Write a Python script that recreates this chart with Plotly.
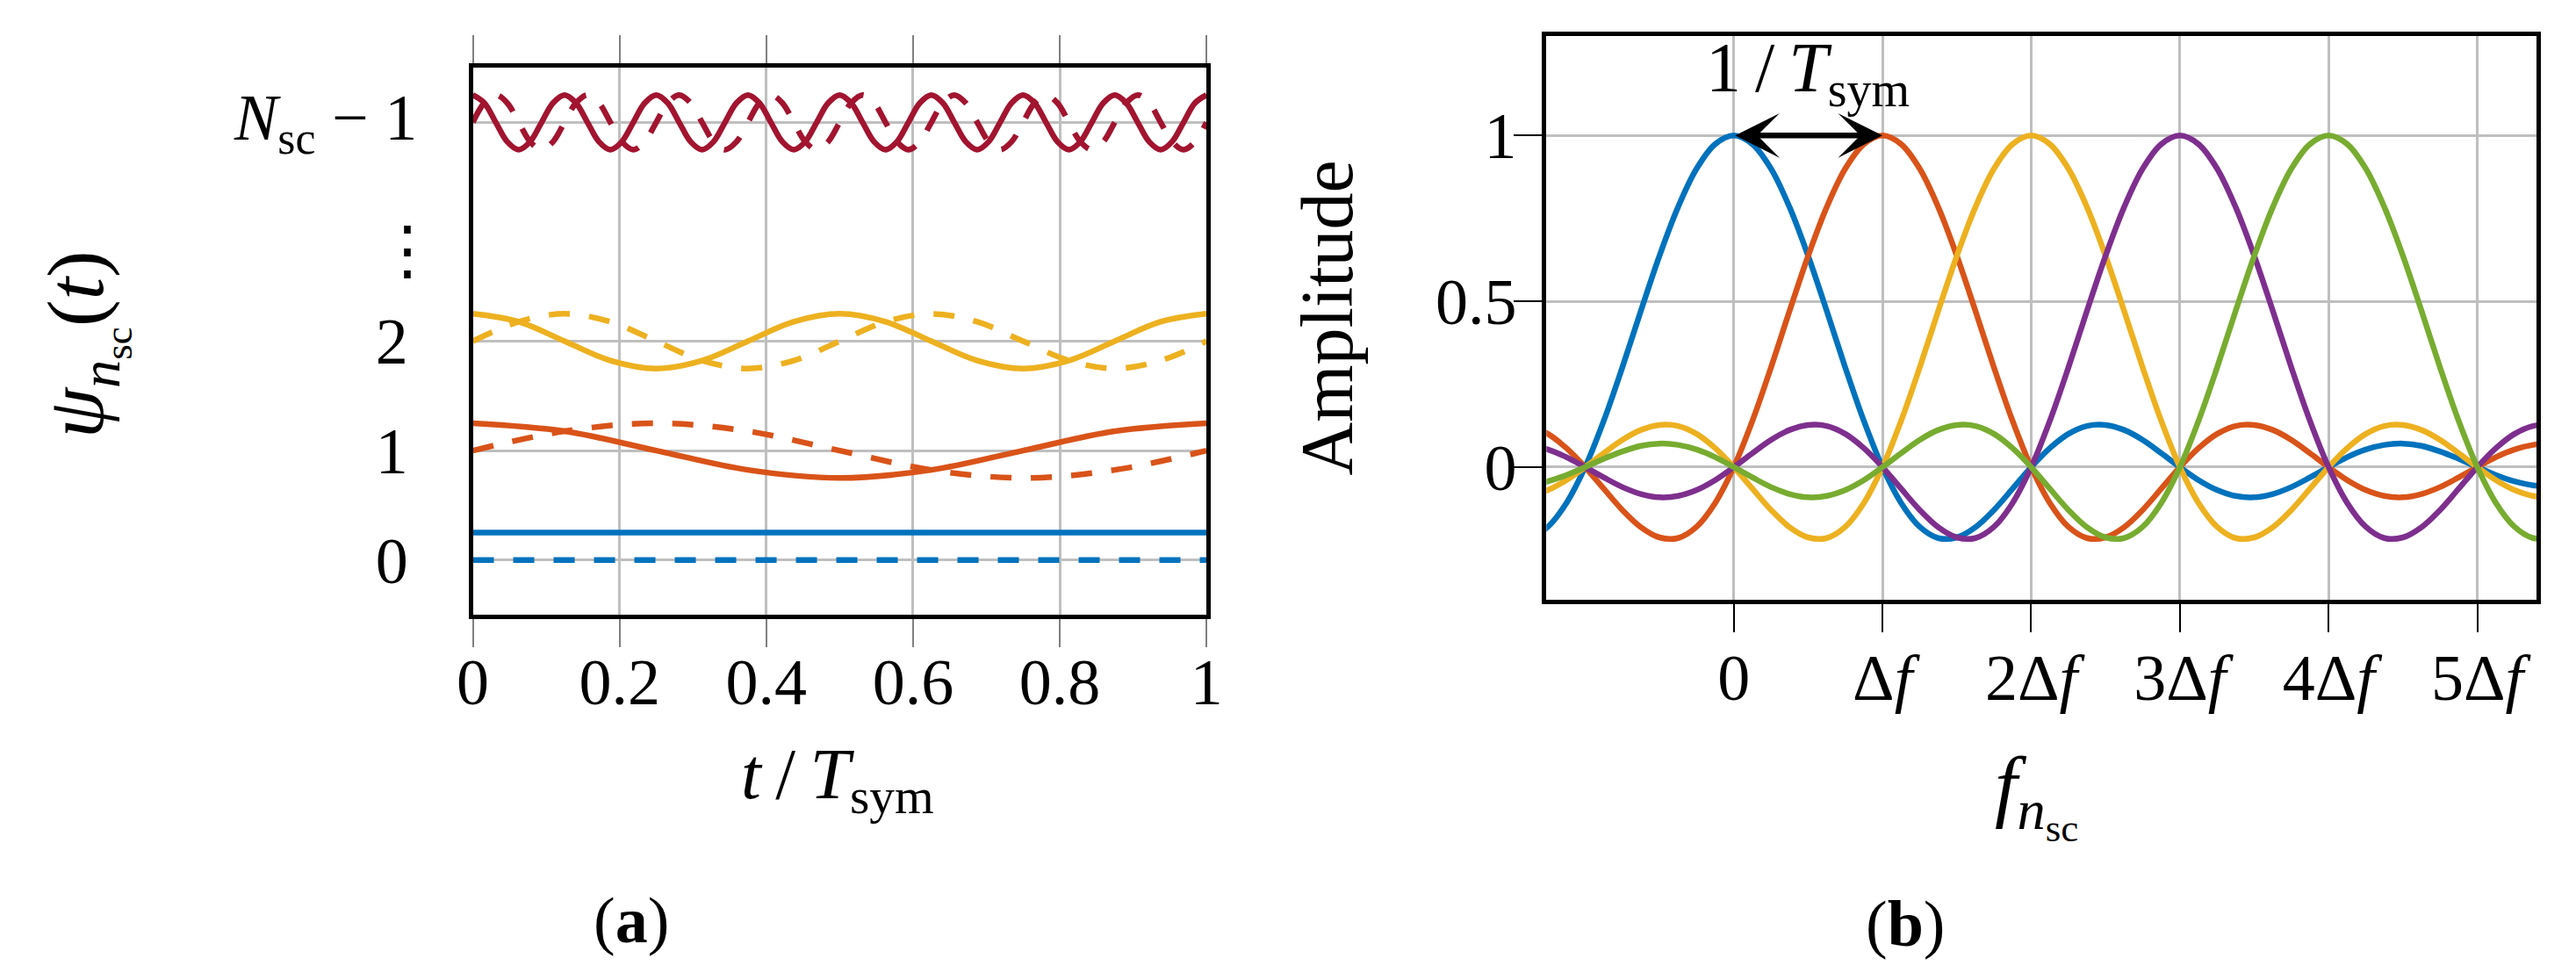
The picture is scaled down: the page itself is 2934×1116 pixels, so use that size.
import plotly.graph_objects as go

# ---------------- data: panel (a) time-domain subcarriers ----------------
T_FLAT = [0.0, 1.0]
BLUE_SOLID = [0.25, 0.25]
BLUE_DASH = [0.0, 0.0]

T_ORANGE = [0.0, 0.125, 0.25, 0.375, 0.5, 0.625, 0.75, 0.875, 1.0]
ORANGE_SOLID = [1.25, 1.177, 1.0, 0.823, 0.75, 0.823, 1.0, 1.177, 1.25]
ORANGE_DASH = [1.0, 1.177, 1.25, 1.177, 1.0, 0.823, 0.75, 0.823, 1.0]

T_YELLOW = [0.0, 0.0625, 0.125, 0.1875, 0.25, 0.3125, 0.375, 0.4375, 0.5,
            0.5625, 0.625, 0.6875, 0.75, 0.8125, 0.875, 0.9375, 1.0]
YELLOW_SOLID = [2.25, 2.177, 2.0, 1.823, 1.75, 1.823, 2.0, 2.177, 2.25,
                2.177, 2.0, 1.823, 1.75, 1.823, 2.0, 2.177, 2.25]
YELLOW_DASH = [2.0, 2.177, 2.25, 2.177, 2.0, 1.823, 1.75, 1.823, 2.0,
               2.177, 2.25, 2.177, 2.0, 1.823, 1.75, 1.823, 2.0]

T_RED = [0.0, 0.015625, 0.03125, 0.046875, 0.0625, 0.078125, 0.09375, 0.109375,
         0.125, 0.140625, 0.15625, 0.171875, 0.1875, 0.203125, 0.21875, 0.234375,
         0.25, 0.265625, 0.28125, 0.296875, 0.3125, 0.328125, 0.34375, 0.359375,
         0.375, 0.390625, 0.40625, 0.421875, 0.4375, 0.453125, 0.46875, 0.484375,
         0.5, 0.515625, 0.53125, 0.546875, 0.5625, 0.578125, 0.59375, 0.609375,
         0.625, 0.640625, 0.65625, 0.671875, 0.6875, 0.703125, 0.71875, 0.734375,
         0.75, 0.765625, 0.78125, 0.796875, 0.8125, 0.828125, 0.84375, 0.859375,
         0.875, 0.890625, 0.90625, 0.921875, 0.9375, 0.953125, 0.96875, 0.984375,
         1.0]
RED_SOLID = [4.25, 4.177, 4.0, 3.823, 3.75, 3.823, 4.0, 4.177,
             4.25, 4.177, 4.0, 3.823, 3.75, 3.823, 4.0, 4.177,
             4.25, 4.177, 4.0, 3.823, 3.75, 3.823, 4.0, 4.177,
             4.25, 4.177, 4.0, 3.823, 3.75, 3.823, 4.0, 4.177,
             4.25, 4.177, 4.0, 3.823, 3.75, 3.823, 4.0, 4.177,
             4.25, 4.177, 4.0, 3.823, 3.75, 3.823, 4.0, 4.177,
             4.25, 4.177, 4.0, 3.823, 3.75, 3.823, 4.0, 4.177,
             4.25, 4.177, 4.0, 3.823, 3.75, 3.823, 4.0, 4.177,
             4.25]
RED_DASH = [4.0, 4.177, 4.25, 4.177, 4.0, 3.823, 3.75, 3.823,
            4.0, 4.177, 4.25, 4.177, 4.0, 3.823, 3.75, 3.823,
            4.0, 4.177, 4.25, 4.177, 4.0, 3.823, 3.75, 3.823,
            4.0, 4.177, 4.25, 4.177, 4.0, 3.823, 3.75, 3.823,
            4.0, 4.177, 4.25, 4.177, 4.0, 3.823, 3.75, 3.823,
            4.0, 4.177, 4.25, 4.177, 4.0, 3.823, 3.75, 3.823,
            4.0, 4.177, 4.25, 4.177, 4.0, 3.823, 3.75, 3.823,
            4.0, 4.177, 4.25, 4.177, 4.0, 3.823, 3.75, 3.823,
            4.0]

A_XTICKS = [0, 0.2, 0.4, 0.6, 0.8, 1]
A_XTICKTEXT = ["0", "0.2", "0.4", "0.6", "0.8", "1"]
A_YTICKS = [0, 1, 2, 4]
A_YTICKTEXT = ["0", "1", "2", ""]
A_TOP_LABEL = "<i>N</i><sub>sc</sub> − 1"

# ---------------- data: panel (b) spectra ----------------
F_GRID = [-1.5, -1.375, -1.25, -1.125, -1.0, -0.875, -0.75, -0.625, -0.5, -0.375,
          -0.25, -0.125, 0.0, 0.125, 0.25, 0.375, 0.5, 0.625, 0.75, 0.875,
          1.0, 1.125, 1.25, 1.375, 1.5, 1.625, 1.75, 1.875, 2.0, 2.125,
          2.25, 2.375, 2.5, 2.625, 2.75, 2.875, 3.0, 3.125, 3.25, 3.375,
          3.5, 3.625, 3.75, 3.875, 4.0, 4.125, 4.25, 4.375, 4.5, 4.625,
          4.75, 4.875, 5.0, 5.125, 5.25, 5.375, 5.5]
SPEC_0 = [-0.212, -0.214, -0.180, -0.108, 0.0, 0.139, 0.300, 0.471, 0.637, 0.784,
          0.900, 0.974, 1.000, 0.974, 0.900, 0.784, 0.637, 0.471, 0.300, 0.139,
          0.0, -0.108, -0.180, -0.214, -0.212, -0.181, -0.129, -0.065, 0.0, 0.057,
          0.100, 0.124, 0.127, 0.112, 0.082, 0.042, 0.0, -0.039, -0.069, -0.087,
          -0.091, -0.081, -0.060, -0.031, 0.0, 0.030, 0.053, 0.067, 0.071, 0.064,
          0.047, 0.025, 0.0, -0.024, -0.043, -0.055, -0.058]
SPEC_1 = [0.127, 0.124, 0.100, 0.057, 0.0, -0.065, -0.129, -0.181, -0.212, -0.214,
          -0.180, -0.108, 0.0, 0.139, 0.300, 0.471, 0.637, 0.784, 0.900, 0.974,
          1.000, 0.974, 0.900, 0.784, 0.637, 0.471, 0.300, 0.139, 0.0, -0.108,
          -0.180, -0.214, -0.212, -0.181, -0.129, -0.065, 0.0, 0.057, 0.100, 0.124,
          0.127, 0.112, 0.082, 0.042, 0.0, -0.039, -0.069, -0.087, -0.091, -0.081,
          -0.060, -0.031, 0.0, 0.030, 0.053, 0.067, 0.071]
SPEC_2 = [-0.091, -0.087, -0.069, -0.039, 0.0, 0.042, 0.082, 0.112, 0.127, 0.124,
          0.100, 0.057, 0.0, -0.065, -0.129, -0.181, -0.212, -0.214, -0.180, -0.108,
          0.0, 0.139, 0.300, 0.471, 0.637, 0.784, 0.900, 0.974, 1.000, 0.974,
          0.900, 0.784, 0.637, 0.471, 0.300, 0.139, 0.0, -0.108, -0.180, -0.214,
          -0.212, -0.181, -0.129, -0.065, 0.0, 0.057, 0.100, 0.124, 0.127, 0.112,
          0.082, 0.042, 0.0, -0.039, -0.069, -0.087, -0.091]
SPEC_3 = [0.071, 0.067, 0.053, 0.030, 0.0, -0.031, -0.060, -0.081, -0.091, -0.087,
          -0.069, -0.039, 0.0, 0.042, 0.082, 0.112, 0.127, 0.124, 0.100, 0.057,
          0.0, -0.065, -0.129, -0.181, -0.212, -0.214, -0.180, -0.108, 0.0, 0.139,
          0.300, 0.471, 0.637, 0.784, 0.900, 0.974, 1.000, 0.974, 0.900, 0.784,
          0.637, 0.471, 0.300, 0.139, 0.0, -0.108, -0.180, -0.214, -0.212, -0.181,
          -0.129, -0.065, 0.0, 0.057, 0.100, 0.124, 0.127]
SPEC_4 = [-0.058, -0.055, -0.043, -0.024, 0.0, 0.025, 0.047, 0.064, 0.071, 0.067,
          0.053, 0.030, 0.0, -0.031, -0.060, -0.081, -0.091, -0.087, -0.069, -0.039,
          0.0, 0.042, 0.082, 0.112, 0.127, 0.124, 0.100, 0.057, 0.0, -0.065,
          -0.129, -0.181, -0.212, -0.214, -0.180, -0.108, 0.0, 0.139, 0.300, 0.471,
          0.637, 0.784, 0.900, 0.974, 1.000, 0.974, 0.900, 0.784, 0.637, 0.471,
          0.300, 0.139, 0.0, -0.108, -0.180, -0.214, -0.212]

B_XTICKS = [0, 1, 2, 3, 4, 5]
B_XTICKTEXT = ["0", "Δ<i>f</i>", "2Δ<i>f</i>", "3Δ<i>f</i>", "4Δ<i>f</i>", "5Δ<i>f</i>"]
B_YTICKS = [0, 0.5, 1]
B_YTICKTEXT = ["0", "0.5", "1"]

# ---------------- style ----------------
BLUE, ORANGE, YELLOW = "#0072BD", "#D95319", "#EDB120"
PURPLE, GREEN, RED = "#7E2F8E", "#77AC30", "#A2142F"
W, H = 2934, 1116
FONT = "Liberation Serif, DejaVu Serif, serif"
FS = 74
LW = 6.5
DASH = "24px,22px"
GRID = "#bfbfbf"

fig = go.Figure()


def add_line(x, y, color, dash=None, xa="x", ya="y"):
    fig.add_trace(go.Scatter(
        x=x, y=y, mode="lines", xaxis=xa, yaxis=ya, showlegend=False,
        line=dict(color=color, width=LW, shape="spline", smoothing=1,
                  dash=dash if dash else "solid"),
        hoverinfo="skip"))


# panel (a)
add_line(T_FLAT, BLUE_SOLID, BLUE)
add_line(T_FLAT, BLUE_DASH, BLUE, DASH)
add_line(T_ORANGE, ORANGE_SOLID, ORANGE)
add_line(T_ORANGE, ORANGE_DASH, ORANGE, DASH)
add_line(T_YELLOW, YELLOW_SOLID, YELLOW)
add_line(T_YELLOW, YELLOW_DASH, YELLOW, DASH)
add_line(T_RED, RED_SOLID, RED)
add_line(T_RED, RED_DASH, RED, DASH)

# panel (b)
for spec, col in [(SPEC_0, BLUE), (SPEC_1, ORANGE), (SPEC_2, YELLOW),
                  (SPEC_3, PURPLE), (SPEC_4, GREEN)]:
    add_line(F_GRID, spec, col, None, "x2", "y2")


def px_x(p):
    return p / W


def px_y(p):
    return 1 - p / H


tickfont = dict(family=FONT, size=FS, color="black")

fig.update_layout(
    width=W, height=H,
    margin=dict(l=0, r=0, t=0, b=0),
    paper_bgcolor="white", plot_bgcolor="white",
    font=dict(family=FONT, size=FS, color="black"),
    xaxis=dict(
        domain=[px_x(527), px_x(1373)], range=[0, 1], anchor="y",
        tickvals=A_XTICKS, ticktext=A_XTICKTEXT, tickfont=tickfont,
        showgrid=True, gridcolor=GRID, gridwidth=3, zeroline=False,
        showline=True, linecolor="black", linewidth=5, mirror="ticks",
        ticks="outside", ticklen=32, tickwidth=2, tickcolor="#808080",
        ticklabelstandoff=-24,
    ),
    yaxis=dict(
        domain=[px_y(700), px_y(77)], range=[-0.5, 4.5], anchor="x",
        tickvals=A_YTICKS, ticktext=A_YTICKTEXT, tickfont=tickfont,
        showgrid=True, gridcolor=GRID, gridwidth=3, zeroline=False,
        showline=True, linecolor="black", linewidth=5, mirror=True,
        ticks="", ticklabelstandoff=54,
    ),
    xaxis2=dict(
        domain=[px_x(1765), px_x(2907)], range=[-1.26, 5.4], anchor="y2",
        tickvals=B_XTICKS, ticktext=B_XTICKTEXT, tickfont=tickfont,
        showgrid=True, gridcolor=GRID, gridwidth=3, zeroline=False,
        showline=True, linecolor="black", linewidth=5, mirror=True,
        ticks="outside", ticklen=32, tickwidth=2, tickcolor="black",
        ticklabelstandoff=-12,
    ),
    yaxis2=dict(
        domain=[px_y(683), px_y(41)], range=[-0.4, 1.3], anchor="x2",
        tickvals=B_YTICKS, ticktext=B_YTICKTEXT, tickfont=tickfont,
        showgrid=True, gridcolor=GRID, gridwidth=3, zeroline=False,
        showline=True, linecolor="black", linewidth=5, mirror=True,
        ticks="outside", ticklen=32, tickwidth=2, tickcolor="black",
        ticklabelstandoff=-18,
    ),
)

ann = []
# top tick label of panel (a)
ann.append(dict(text=A_TOP_LABEL, xref="paper", yref="y", x=px_x(465), y=A_YTICKS[3],
                showarrow=False, xanchor="right", yanchor="middle",
                font=dict(family=FONT, size=FS, color="black")))
# vertical dots tick
ann.append(dict(text="⋮", xref="paper", yref="y", x=px_x(452), y=2.84,
                showarrow=False, xanchor="center", yanchor="middle",
                font=dict(family="DejaVu Serif", size=74, color="black")))
# axis titles
ann.append(dict(text="<i>t</i>\u2009/\u2009<i>T</i><sub>sym</sub>", xref="paper", yref="paper",
                x=px_x(948), y=px_y(887), showarrow=False,
                xanchor="center", yanchor="middle", font=dict(family=FONT, size=82)))
ann.append(dict(text="<i>ψ</i><sub><i>n</i><sub>sc</sub></sub>(<i>t</i>)", xref="paper", yref="paper",
                x=px_x(80), y=px_y(392), showarrow=False, textangle=-90,
                xanchor="center", yanchor="middle", font=dict(family=FONT, size=92)))
ann.append(dict(text="<i>f</i><sub><i>n</i><sub>sc</sub></sub>", xref="paper", yref="paper",
                x=px_x(2330), y=px_y(905), showarrow=False,
                xanchor="center", yanchor="middle", font=dict(family=FONT, size=92)))
ann.append(dict(text="Amplitude", xref="paper", yref="paper",
                x=px_x(1512), y=px_y(362), showarrow=False, textangle=-90,
                xanchor="center", yanchor="middle", font=dict(family=FONT, size=84)))
# sub-figure labels
ann.append(dict(text="(<b>a</b>)", xref="paper", yref="paper",
                x=px_x(710), y=px_y(1048), showarrow=False,
                xanchor="center", yanchor="middle", font=dict(family=FONT, size=FS)))
ann.append(dict(text="(<b>b</b>)", xref="paper", yref="paper",
                x=px_x(2179), y=px_y(1052), showarrow=False,
                xanchor="center", yanchor="middle", font=dict(family=FONT, size=FS)))
# double arrow between first two peaks
ann.append(dict(text="", xref="x2", yref="y2", x=1, y=1,
                axref="x2", ayref="y2", ax=0, ay=1,
                showarrow=True, arrowside="end+start",
                arrowhead=3, startarrowhead=3, arrowsize=1.3, startarrowsize=1.3,
                arrowwidth=6.5, arrowcolor="black", standoff=0, startstandoff=0,
                font=dict(size=1)))
ann.append(dict(text="1\u2009/\u2009<i>T</i><sub>sym</sub>", xref="x2", yref="y2", x=0.5, y=1.19,
                showarrow=False, xanchor="center", yanchor="middle",
                font=dict(family=FONT, size=80)))

fig.update_layout(annotations=ann)

fig.write_html("out.html")
